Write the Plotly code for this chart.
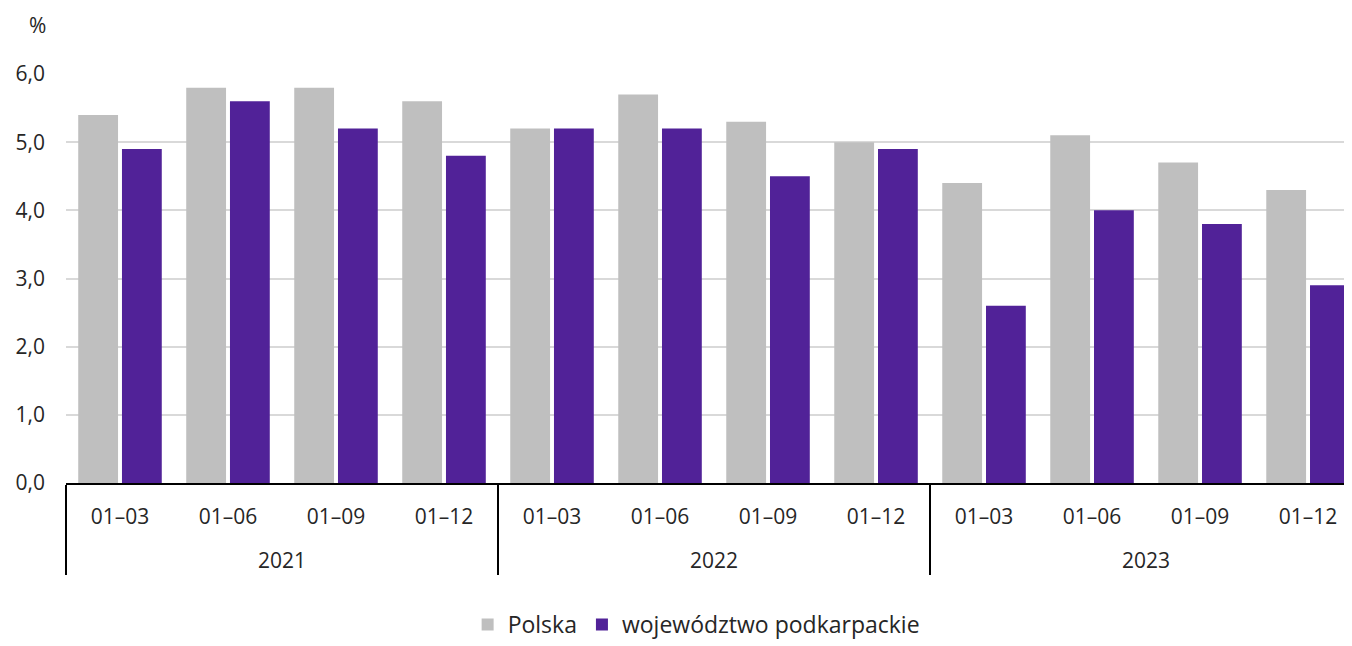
import plotly.graph_objects as go

years = ["2021"] * 4 + ["2022"] * 4 + ["2023"] * 4
periods = ["01–03", "01–06", "01–09", "01–12"] * 3
polska = [5.4, 5.8, 5.8, 5.6, 5.2, 5.7, 5.3, 5.0, 4.4, 5.1, 4.7, 4.3]
podkarpackie = [4.9, 5.6, 5.2, 4.8, 5.2, 5.2, 4.5, 4.9, 2.6, 4.0, 3.8, 2.9]
y_ticks = [0, 1, 2, 3, 4, 5, 6]

font = "Open Sans"
fs = 21

# leading line break drops the year row further below the period row
year_labels = ["<br>" + y for y in years]

fig = go.Figure()
fig.add_trace(go.Bar(x=[year_labels, periods], y=polska, name="Polska",
                     marker=dict(color="#BFBFBF", line=dict(width=0))))
fig.add_trace(go.Bar(x=[year_labels, periods], y=podkarpackie, name="województwo podkarpackie",
                     marker=dict(color="#512298", line=dict(width=0))))

# page body has an 8px margin, so the figure is 8px smaller in both directions
fig.update_layout(
    width=1344, height=638,
    margin=dict(l=58, r=0, t=66, b=163, autoexpand=False),
    plot_bgcolor="white", paper_bgcolor="white",
    barmode="group", bargap=0.19, bargroupgap=0.09,
    separators=", ",
    font=dict(family=font, size=fs, color="#262626"),
    showlegend=True,
    legend=dict(orientation="h", xref="container", yref="container",
                x=0.512, xanchor="center", y=-0.007, yanchor="bottom",
                font=dict(size=23), itemwidth=30, traceorder="normal"),
    xaxis=dict(type="multicategory", showline=True, linecolor="black", linewidth=2,
               showdividers=True, dividercolor="black", dividerwidth=2,
               ticks="", ticklabelstandoff=14,
               range=[-0.5, 11.407], tickfont=dict(size=fs)),
    yaxis=dict(range=[0, 6], tickvals=y_ticks, tickformat=".1f",
               showgrid=True, gridcolor="#D9D9D9", gridwidth=2,
               zeroline=False, showline=False, ticks="",
               tickfont=dict(size=fs), ticklabelstandoff=20),
    annotations=[dict(text="%", xref="paper", yref="paper", x=-0.0218, y=1.12,
                      xanchor="center", yanchor="middle", showarrow=False,
                      font=dict(size=fs))],
)

fig.write_html("out.html")
